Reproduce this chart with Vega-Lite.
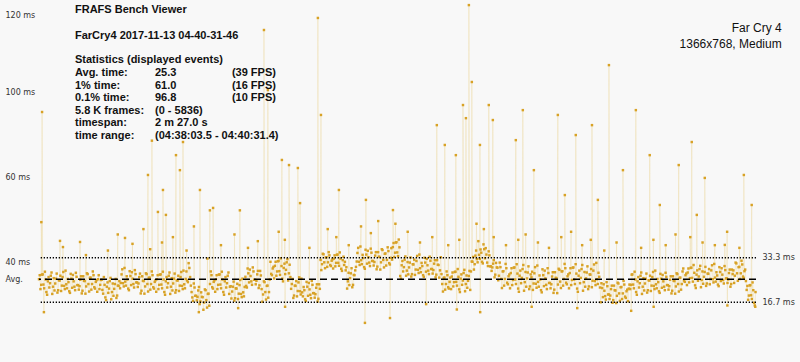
{
"$schema": "https://vega.github.io/schema/vega-lite/v6.json",
"width": 717, "height": 347,
"autosize": {"type": "none"},
"padding": {"left": 39, "top": 0, "right": 44, "bottom": 15},
"background": "#f8f8f8",
"config": {"view": {"stroke": null}, "font": "Liberation Sans"},
"datasets": {
"frames": [
{"f":0,"t":25.3},{"f":12,"t":21.6},{"f":24,"t":27.0},{"f":36,"t":23.3},{"f":48,"t":28.1},{"f":60,"t":20.5},{"f":72,"t":24.5},{"f":84,"t":22.2},{"f":96,"t":26.6},{"f":108,"t":19.8},
{"f":120,"t":25.7},{"f":132,"t":23.7},{"f":144,"t":27.4},{"f":156,"t":21.2},{"f":168,"t":24.8},{"f":180,"t":20.9},{"f":192,"t":26.1},{"f":204,"t":22.8},{"f":216,"t":28.5},{"f":228,"t":21.9},
{"f":240,"t":24.2},{"f":252,"t":20.2},{"f":264,"t":25.5},{"f":276,"t":26.9},{"f":288,"t":22.5},{"f":300,"t":27.7},{"f":312,"t":23.1},{"f":324,"t":21.4},{"f":336,"t":25.1},{"f":348,"t":20.0},
{"f":360,"t":26.4},{"f":372,"t":24.6},{"f":384,"t":22.6},{"f":396,"t":27.2},{"f":408,"t":20.7},{"f":420,"t":25.9},{"f":432,"t":23.5},{"f":444,"t":26.8},{"f":456,"t":21.8},{"f":468,"t":24.9},
{"f":480,"t":25.3},{"f":492,"t":21.6},{"f":504,"t":25.0},{"f":516,"t":21.3},{"f":528,"t":26.1},{"f":540,"t":18.5},{"f":552,"t":22.5},{"f":564,"t":20.2},{"f":576,"t":24.6},{"f":588,"t":17.8},
{"f":600,"t":23.7},{"f":612,"t":21.7},{"f":624,"t":25.4},{"f":636,"t":19.2},{"f":648,"t":22.8},{"f":660,"t":21.9},{"f":672,"t":27.1},{"f":684,"t":23.8},{"f":696,"t":29.5},{"f":708,"t":22.9},
{"f":720,"t":25.2},{"f":732,"t":21.2},{"f":744,"t":26.5},{"f":756,"t":27.9},{"f":768,"t":23.5},{"f":780,"t":28.7},{"f":792,"t":24.1},{"f":804,"t":22.4},{"f":816,"t":26.1},{"f":828,"t":20.0},
{"f":840,"t":26.4},{"f":852,"t":24.6},{"f":864,"t":22.6},{"f":876,"t":27.2},{"f":888,"t":20.7},{"f":900,"t":25.9},{"f":912,"t":23.5},{"f":924,"t":26.8},{"f":936,"t":21.8},{"f":948,"t":24.9},
{"f":960,"t":25.3},{"f":972,"t":21.6},{"f":984,"t":27.0},{"f":996,"t":23.3},{"f":1008,"t":28.1},{"f":1020,"t":20.5},{"f":1032,"t":24.5},{"f":1044,"t":22.2},{"f":1056,"t":26.6},{"f":1068,"t":19.8},
{"f":1080,"t":25.7},{"f":1092,"t":23.7},{"f":1104,"t":27.4},{"f":1116,"t":21.2},{"f":1128,"t":24.8},{"f":1140,"t":20.9},{"f":1152,"t":26.1},{"f":1164,"t":22.8},{"f":1176,"t":28.5},{"f":1188,"t":21.9},
{"f":1200,"t":28.2},{"f":1212,"t":24.2},{"f":1224,"t":29.5},{"f":1236,"t":22.9},{"f":1248,"t":18.5},{"f":1260,"t":23.7},{"f":1272,"t":19.1},{"f":1284,"t":17.4},{"f":1296,"t":21.1},{"f":1308,"t":16.0},
{"f":1320,"t":20.4},{"f":1332,"t":18.6},{"f":1344,"t":16.6},{"f":1356,"t":21.2},{"f":1368,"t":14.7},{"f":1380,"t":19.9},{"f":1392,"t":23.5},{"f":1404,"t":26.8},{"f":1416,"t":21.8},{"f":1428,"t":24.9},
{"f":1440,"t":25.3},{"f":1452,"t":21.6},{"f":1464,"t":27.0},{"f":1476,"t":23.3},{"f":1488,"t":28.1},{"f":1500,"t":20.5},{"f":1512,"t":24.5},{"f":1524,"t":22.2},{"f":1536,"t":26.6},{"f":1548,"t":19.8},
{"f":1560,"t":22.7},{"f":1572,"t":20.7},{"f":1584,"t":24.4},{"f":1596,"t":18.2},{"f":1608,"t":21.8},{"f":1620,"t":17.9},{"f":1632,"t":23.1},{"f":1644,"t":19.8},{"f":1656,"t":25.5},{"f":1668,"t":18.9},
{"f":1680,"t":26.2},{"f":1692,"t":22.2},{"f":1704,"t":27.5},{"f":1716,"t":28.9},{"f":1728,"t":24.5},{"f":1740,"t":29.7},{"f":1752,"t":25.1},{"f":1764,"t":23.4},{"f":1776,"t":27.1},{"f":1788,"t":22.0},
{"f":1800,"t":28.4},{"f":1812,"t":21.6},{"f":1824,"t":19.6},{"f":1836,"t":24.2},{"f":1848,"t":17.7},{"f":1860,"t":22.9},{"f":1872,"t":20.5},{"f":1884,"t":31.8},{"f":1896,"t":26.8},{"f":1908,"t":29.9},
{"f":1920,"t":30.3},{"f":1932,"t":26.6},{"f":1944,"t":32.0},{"f":1956,"t":28.3},{"f":1968,"t":33.1},{"f":1980,"t":25.5},{"f":1992,"t":29.5},{"f":2004,"t":27.2},{"f":2016,"t":31.6},{"f":2028,"t":24.8},
{"f":2040,"t":30.7},{"f":2052,"t":21.7},{"f":2064,"t":25.4},{"f":2076,"t":19.2},{"f":2088,"t":22.8},{"f":2100,"t":18.9},{"f":2112,"t":24.1},{"f":2124,"t":20.8},{"f":2136,"t":25.5},{"f":2148,"t":18.9},
{"f":2160,"t":21.2},{"f":2172,"t":17.2},{"f":2184,"t":22.5},{"f":2196,"t":23.9},{"f":2208,"t":19.5},{"f":2220,"t":24.7},{"f":2232,"t":20.1},{"f":2244,"t":18.4},{"f":2256,"t":22.1},{"f":2268,"t":17.0},
{"f":2280,"t":23.4},{"f":2292,"t":32.5},{"f":2304,"t":30.9},{"f":2316,"t":34.6},{"f":2328,"t":29.4},{"f":2340,"t":33.5},{"f":2352,"t":31.6},{"f":2364,"t":34.2},{"f":2376,"t":30.2},{"f":2388,"t":32.7},
{"f":2400,"t":33.0},{"f":2412,"t":30.1},{"f":2424,"t":34.4},{"f":2436,"t":31.4},{"f":2448,"t":35.3},{"f":2460,"t":29.2},{"f":2472,"t":32.4},{"f":2484,"t":30.6},{"f":2496,"t":28.6},{"f":2508,"t":21.8},
{"f":2520,"t":27.7},{"f":2532,"t":25.7},{"f":2544,"t":29.4},{"f":2556,"t":23.2},{"f":2568,"t":26.8},{"f":2580,"t":29.9},{"f":2592,"t":35.1},{"f":2604,"t":31.8},{"f":2616,"t":37.5},{"f":2628,"t":30.9},
{"f":2640,"t":33.2},{"f":2652,"t":29.2},{"f":2664,"t":34.5},{"f":2676,"t":35.9},{"f":2688,"t":31.5},{"f":2700,"t":36.7},{"f":2712,"t":32.1},{"f":2724,"t":30.4},{"f":2736,"t":34.1},{"f":2748,"t":29.0},
{"f":2760,"t":35.4},{"f":2772,"t":33.6},{"f":2784,"t":31.6},{"f":2796,"t":36.2},{"f":2808,"t":29.7},{"f":2820,"t":34.9},{"f":2832,"t":32.5},{"f":2844,"t":35.8},{"f":2856,"t":30.8},{"f":2868,"t":36.9},
{"f":2880,"t":37.3},{"f":2892,"t":33.6},{"f":2904,"t":39.0},{"f":2916,"t":35.3},{"f":2928,"t":40.1},{"f":2940,"t":26.5},{"f":2952,"t":30.5},{"f":2964,"t":28.2},{"f":2976,"t":32.6},{"f":2988,"t":26.6},
{"f":3000,"t":31.7},{"f":3012,"t":29.7},{"f":3024,"t":33.4},{"f":3036,"t":27.2},{"f":3048,"t":30.8},{"f":3060,"t":26.9},{"f":3072,"t":32.1},{"f":3084,"t":28.8},{"f":3096,"t":34.5},{"f":3108,"t":27.9},
{"f":3120,"t":30.2},{"f":3132,"t":26.2},{"f":3144,"t":31.5},{"f":3156,"t":32.9},{"f":3168,"t":28.5},{"f":3180,"t":33.7},{"f":3192,"t":29.1},{"f":3204,"t":27.4},{"f":3216,"t":31.1},{"f":3228,"t":26.0},
{"f":3240,"t":32.4},{"f":3252,"t":30.6},{"f":3264,"t":28.6},{"f":3276,"t":27.2},{"f":3288,"t":20.7},{"f":3300,"t":25.9},{"f":3312,"t":23.5},{"f":3324,"t":26.8},{"f":3336,"t":21.8},{"f":3348,"t":25.9},
{"f":3360,"t":26.3},{"f":3372,"t":22.6},{"f":3384,"t":28.0},{"f":3396,"t":24.3},{"f":3408,"t":29.1},{"f":3420,"t":21.5},{"f":3432,"t":25.5},{"f":3444,"t":23.2},{"f":3456,"t":27.6},{"f":3468,"t":20.8},
{"f":3480,"t":26.7},{"f":3492,"t":24.7},{"f":3504,"t":28.4},{"f":3516,"t":28.2},{"f":3528,"t":31.8},{"f":3540,"t":28.9},{"f":3552,"t":34.1},{"f":3564,"t":32.8},{"f":3576,"t":39.5},{"f":3588,"t":32.9},
{"f":3600,"t":35.2},{"f":3612,"t":31.2},{"f":3624,"t":36.5},{"f":3636,"t":36.9},{"f":3648,"t":31.5},{"f":3660,"t":35.7},{"f":3672,"t":30.1},{"f":3684,"t":28.4},{"f":3696,"t":31.1},{"f":3708,"t":26.0},
{"f":3720,"t":31.4},{"f":3732,"t":29.6},{"f":3744,"t":26.6},{"f":3756,"t":29.8},{"f":3768,"t":22.0},{"f":3780,"t":28.3},{"f":3792,"t":25.4},{"f":3804,"t":29.4},{"f":3816,"t":23.4},{"f":3828,"t":27.1},
{"f":3840,"t":27.6},{"f":3852,"t":23.1},{"f":3864,"t":29.6},{"f":3876,"t":25.2},{"f":3888,"t":30.9},{"f":3900,"t":21.8},{"f":3912,"t":26.6},{"f":3924,"t":23.8},{"f":3936,"t":29.1},{"f":3948,"t":21.0},
{"f":3960,"t":28.0},{"f":3972,"t":25.6},{"f":3984,"t":30.1},{"f":3996,"t":22.6},{"f":4008,"t":26.0},{"f":4020,"t":21.3},{"f":4032,"t":27.5},{"f":4044,"t":23.6},{"f":4056,"t":30.4},{"f":4068,"t":22.5},
{"f":4080,"t":25.2},{"f":4092,"t":20.4},{"f":4104,"t":26.8},{"f":4116,"t":28.5},{"f":4128,"t":23.2},{"f":4140,"t":29.4},{"f":4152,"t":23.9},{"f":4164,"t":21.9},{"f":4176,"t":26.3},{"f":4188,"t":20.2},
{"f":4200,"t":27.9},{"f":4212,"t":25.7},{"f":4224,"t":23.3},{"f":4236,"t":28.8},{"f":4248,"t":22.0},{"f":4260,"t":28.3},{"f":4272,"t":25.4},{"f":4284,"t":29.4},{"f":4296,"t":23.4},{"f":4308,"t":27.1},
{"f":4320,"t":27.6},{"f":4332,"t":23.1},{"f":4344,"t":29.6},{"f":4356,"t":25.2},{"f":4368,"t":30.9},{"f":4380,"t":21.8},{"f":4392,"t":26.6},{"f":4404,"t":23.8},{"f":4416,"t":29.1},{"f":4428,"t":21.0},
{"f":4440,"t":28.0},{"f":4452,"t":25.6},{"f":4464,"t":30.1},{"f":4476,"t":22.6},{"f":4488,"t":27.0},{"f":4500,"t":22.3},{"f":4512,"t":28.5},{"f":4524,"t":24.6},{"f":4536,"t":31.4},{"f":4548,"t":23.5},
{"f":4560,"t":26.2},{"f":4572,"t":16.7},{"f":4584,"t":22.0},{"f":4596,"t":23.4},{"f":4608,"t":19.0},{"f":4620,"t":24.2},{"f":4632,"t":19.6},{"f":4644,"t":17.9},{"f":4656,"t":21.6},{"f":4668,"t":16.5},
{"f":4680,"t":22.9},{"f":4692,"t":21.1},{"f":4704,"t":19.1},{"f":4716,"t":23.7},{"f":4728,"t":17.2},{"f":4740,"t":22.4},{"f":4752,"t":20.0},{"f":4764,"t":23.3},{"f":4776,"t":18.3},{"f":4788,"t":21.4},
{"f":4800,"t":21.8},{"f":4812,"t":21.6},{"f":4824,"t":27.0},{"f":4836,"t":23.3},{"f":4848,"t":28.1},{"f":4860,"t":20.5},{"f":4872,"t":24.5},{"f":4884,"t":22.2},{"f":4896,"t":26.6},{"f":4908,"t":19.8},
{"f":4920,"t":25.7},{"f":4932,"t":23.7},{"f":4944,"t":27.4},{"f":4956,"t":21.2},{"f":4968,"t":24.8},{"f":4980,"t":20.9},{"f":4992,"t":26.1},{"f":5004,"t":22.8},{"f":5016,"t":28.5},{"f":5028,"t":21.9},
{"f":5040,"t":24.2},{"f":5052,"t":20.2},{"f":5064,"t":25.5},{"f":5076,"t":26.9},{"f":5088,"t":22.5},{"f":5100,"t":27.7},{"f":5112,"t":23.1},{"f":5124,"t":21.4},{"f":5136,"t":25.1},{"f":5148,"t":20.0},
{"f":5160,"t":26.4},{"f":5172,"t":24.6},{"f":5184,"t":22.6},{"f":5196,"t":27.2},{"f":5208,"t":20.7},{"f":5220,"t":25.9},{"f":5232,"t":23.5},{"f":5244,"t":29.3},{"f":5256,"t":24.3},{"f":5268,"t":27.4},
{"f":5280,"t":27.8},{"f":5292,"t":24.1},{"f":5304,"t":29.5},{"f":5316,"t":25.8},{"f":5328,"t":30.6},{"f":5340,"t":23.0},{"f":5352,"t":27.0},{"f":5364,"t":24.7},{"f":5376,"t":29.1},{"f":5388,"t":22.3},
{"f":5400,"t":28.2},{"f":5412,"t":26.2},{"f":5424,"t":29.9},{"f":5436,"t":23.7},{"f":5448,"t":27.3},{"f":5460,"t":23.4},{"f":5472,"t":28.6},{"f":5484,"t":25.3},{"f":5496,"t":31.0},{"f":5508,"t":24.4},
{"f":5520,"t":26.7},{"f":5532,"t":22.7},{"f":5544,"t":28.0},{"f":5556,"t":29.4},{"f":5568,"t":25.0},{"f":5580,"t":30.2},{"f":5592,"t":25.6},{"f":5604,"t":23.9},{"f":5616,"t":27.6},{"f":5628,"t":22.5},
{"f":5640,"t":28.9},{"f":5652,"t":28.6},{"f":5664,"t":26.6},{"f":5676,"t":31.2},{"f":5688,"t":24.7},{"f":5700,"t":29.9},{"f":5712,"t":27.5},{"f":5724,"t":30.8},{"f":5736,"t":25.8},{"f":5748,"t":28.9},
{"f":5760,"t":21.3},{"f":5772,"t":17.6},{"f":5784,"t":23.0},{"f":5796,"t":19.3},{"f":5808,"t":24.1},{"f":5820,"t":16.5},{"f":5832,"t":20.5},
{"f":6,"t":26.8},{"f":18,"t":23.2},{"f":30,"t":27.1},{"f":42,"t":21.9},{"f":54,"t":25.2},{"f":66,"t":19.5},{"f":78,"t":26.1},{"f":90,"t":23.8},{"f":102,"t":27.8},{"f":114,"t":22.5},
{"f":126,"t":21.1},{"f":138,"t":25.5},{"f":150,"t":20.3},{"f":162,"t":24.9},{"f":174,"t":26.6},{"f":186,"t":22.9},{"f":198,"t":28.0},{"f":210,"t":21.6},{"f":222,"t":23.4},{"f":234,"t":25.4},
{"f":246,"t":20.8},{"f":258,"t":27.3},{"f":270,"t":22.1},{"f":282,"t":24.5},{"f":294,"t":21.2},{"f":306,"t":26.2},{"f":318,"t":23.1},{"f":330,"t":22.7},{"f":342,"t":26.4},{"f":354,"t":21.0},
{"f":366,"t":24.7},{"f":378,"t":19.9},{"f":390,"t":27.5},{"f":402,"t":23.5},{"f":414,"t":25.8},{"f":426,"t":21.4},{"f":438,"t":28.2},{"f":450,"t":22.3},{"f":462,"t":24.3},{"f":474,"t":20.6},
{"f":486,"t":26.8},{"f":498,"t":23.2},{"f":510,"t":25.1},{"f":522,"t":19.9},{"f":534,"t":23.2},{"f":546,"t":17.5},{"f":558,"t":24.1},{"f":570,"t":21.8},{"f":582,"t":25.8},{"f":594,"t":20.5},
{"f":606,"t":19.1},{"f":618,"t":23.5},{"f":630,"t":18.3},{"f":642,"t":22.9},{"f":654,"t":24.6},{"f":666,"t":23.9},{"f":678,"t":29.0},{"f":690,"t":22.6},{"f":702,"t":24.4},{"f":714,"t":26.4},
{"f":726,"t":21.8},{"f":738,"t":28.3},{"f":750,"t":23.1},{"f":762,"t":25.5},{"f":774,"t":22.2},{"f":786,"t":27.2},{"f":798,"t":24.1},{"f":810,"t":23.7},{"f":822,"t":27.4},{"f":834,"t":21.0},
{"f":846,"t":24.7},{"f":858,"t":19.9},{"f":870,"t":27.5},{"f":882,"t":23.5},{"f":894,"t":25.8},{"f":906,"t":21.4},{"f":918,"t":28.2},{"f":930,"t":22.3},{"f":942,"t":24.3},{"f":954,"t":20.6},
{"f":966,"t":26.8},{"f":978,"t":23.2},{"f":990,"t":27.1},{"f":1002,"t":21.9},{"f":1014,"t":25.2},{"f":1026,"t":19.5},{"f":1038,"t":26.1},{"f":1050,"t":23.8},{"f":1062,"t":27.8},{"f":1074,"t":22.5},
{"f":1086,"t":21.1},{"f":1098,"t":25.5},{"f":1110,"t":20.3},{"f":1122,"t":24.9},{"f":1134,"t":26.6},{"f":1146,"t":22.9},{"f":1158,"t":28.0},{"f":1170,"t":21.6},{"f":1182,"t":23.4},{"f":1194,"t":25.4},
{"f":1206,"t":24.8},{"f":1218,"t":31.3},{"f":1230,"t":26.1},{"f":1242,"t":20.5},{"f":1254,"t":17.2},{"f":1266,"t":22.2},{"f":1278,"t":19.1},{"f":1290,"t":18.7},{"f":1302,"t":22.4},{"f":1314,"t":17.0},
{"f":1326,"t":18.7},{"f":1338,"t":13.9},{"f":1350,"t":21.5},{"f":1362,"t":17.5},{"f":1374,"t":19.8},{"f":1386,"t":15.4},{"f":1398,"t":28.2},{"f":1410,"t":22.3},{"f":1422,"t":24.3},{"f":1434,"t":20.6},
{"f":1446,"t":26.8},{"f":1458,"t":23.2},{"f":1470,"t":27.1},{"f":1482,"t":21.9},{"f":1494,"t":25.2},{"f":1506,"t":19.5},{"f":1518,"t":26.1},{"f":1530,"t":23.8},{"f":1542,"t":27.8},{"f":1554,"t":22.5},
{"f":1566,"t":18.1},{"f":1578,"t":22.5},{"f":1590,"t":17.3},{"f":1602,"t":21.9},{"f":1614,"t":23.6},{"f":1626,"t":19.9},{"f":1638,"t":25.0},{"f":1650,"t":18.6},{"f":1662,"t":20.4},{"f":1674,"t":22.4},
{"f":1686,"t":22.8},{"f":1698,"t":29.3},{"f":1710,"t":24.1},{"f":1722,"t":26.5},{"f":1734,"t":23.2},{"f":1746,"t":28.2},{"f":1758,"t":25.1},{"f":1770,"t":24.7},{"f":1782,"t":28.4},{"f":1794,"t":23.0},
{"f":1806,"t":26.7},{"f":1818,"t":16.9},{"f":1830,"t":24.5},{"f":1842,"t":20.5},{"f":1854,"t":22.8},{"f":1866,"t":18.4},{"f":1878,"t":25.2},{"f":1890,"t":27.3},{"f":1902,"t":29.3},{"f":1914,"t":25.6},
{"f":1926,"t":31.8},{"f":1938,"t":28.2},{"f":1950,"t":32.1},{"f":1962,"t":26.9},{"f":1974,"t":30.2},{"f":1986,"t":24.5},{"f":1998,"t":31.1},{"f":2010,"t":28.8},{"f":2022,"t":32.8},{"f":2034,"t":27.5},
{"f":2046,"t":26.1},{"f":2058,"t":23.5},{"f":2070,"t":18.3},{"f":2082,"t":22.9},{"f":2094,"t":24.6},{"f":2106,"t":20.9},{"f":2118,"t":26.0},{"f":2130,"t":19.6},{"f":2142,"t":20.4},{"f":2154,"t":22.4},
{"f":2166,"t":17.8},{"f":2178,"t":24.3},{"f":2190,"t":19.1},{"f":2202,"t":21.5},{"f":2214,"t":18.2},{"f":2226,"t":23.2},{"f":2238,"t":20.1},{"f":2250,"t":19.7},{"f":2262,"t":23.4},{"f":2274,"t":18.0},
{"f":2286,"t":21.7},{"f":2298,"t":28.7},{"f":2310,"t":34.8},{"f":2322,"t":31.6},{"f":2334,"t":33.4},{"f":2346,"t":29.9},{"f":2358,"t":35.4},{"f":2370,"t":30.6},{"f":2382,"t":32.2},{"f":2394,"t":29.3},
{"f":2406,"t":34.2},{"f":2418,"t":31.4},{"f":2430,"t":34.5},{"f":2442,"t":30.3},{"f":2454,"t":33.0},{"f":2466,"t":28.4},{"f":2478,"t":33.7},{"f":2490,"t":31.8},{"f":2502,"t":29.8},{"f":2514,"t":24.5},
{"f":2526,"t":23.1},{"f":2538,"t":27.5},{"f":2550,"t":22.3},{"f":2562,"t":26.9},{"f":2574,"t":28.6},{"f":2586,"t":31.9},{"f":2598,"t":37.0},{"f":2610,"t":30.6},{"f":2622,"t":32.4},{"f":2634,"t":34.4},
{"f":2646,"t":29.8},{"f":2658,"t":36.3},{"f":2670,"t":31.1},{"f":2682,"t":33.5},{"f":2694,"t":30.2},{"f":2706,"t":35.2},{"f":2718,"t":32.1},{"f":2730,"t":31.7},{"f":2742,"t":35.4},{"f":2754,"t":30.0},
{"f":2766,"t":33.7},{"f":2778,"t":28.9},{"f":2790,"t":36.5},{"f":2802,"t":32.5},{"f":2814,"t":34.8},{"f":2826,"t":30.4},{"f":2838,"t":37.2},{"f":2850,"t":31.3},{"f":2862,"t":33.3},{"f":2874,"t":32.6},
{"f":2886,"t":38.8},{"f":2898,"t":35.2},{"f":2910,"t":39.1},{"f":2922,"t":33.9},{"f":2934,"t":37.2},{"f":2946,"t":25.5},{"f":2958,"t":32.1},{"f":2970,"t":29.8},{"f":2982,"t":33.8},{"f":2994,"t":28.5},
{"f":3006,"t":27.1},{"f":3018,"t":31.5},{"f":3030,"t":26.3},{"f":3042,"t":30.9},{"f":3054,"t":32.6},{"f":3066,"t":28.9},{"f":3078,"t":34.0},{"f":3090,"t":27.6},{"f":3102,"t":29.4},{"f":3114,"t":31.4},
{"f":3126,"t":26.8},{"f":3138,"t":33.3},{"f":3150,"t":28.1},{"f":3162,"t":30.5},{"f":3174,"t":27.2},{"f":3186,"t":32.2},{"f":3198,"t":29.1},{"f":3210,"t":28.7},{"f":3222,"t":32.4},{"f":3234,"t":27.0},
{"f":3246,"t":30.7},{"f":3258,"t":25.9},{"f":3270,"t":33.5},{"f":3282,"t":23.5},{"f":3294,"t":25.8},{"f":3306,"t":21.4},{"f":3318,"t":28.2},{"f":3330,"t":22.3},{"f":3342,"t":24.3},{"f":3354,"t":21.6},
{"f":3366,"t":27.8},{"f":3378,"t":24.2},{"f":3390,"t":28.1},{"f":3402,"t":22.9},{"f":3414,"t":26.2},{"f":3426,"t":20.5},{"f":3438,"t":27.1},{"f":3450,"t":24.8},{"f":3462,"t":28.8},{"f":3474,"t":23.5},
{"f":3486,"t":22.1},{"f":3498,"t":26.5},{"f":3510,"t":21.3},{"f":3522,"t":31.9},{"f":3534,"t":33.6},{"f":3546,"t":30.9},{"f":3558,"t":36.0},{"f":3570,"t":31.6},{"f":3582,"t":34.4},{"f":3594,"t":36.4},
{"f":3606,"t":31.8},{"f":3618,"t":38.3},{"f":3630,"t":33.1},{"f":3642,"t":34.5},{"f":3654,"t":30.2},{"f":3666,"t":34.2},{"f":3678,"t":30.1},{"f":3690,"t":29.7},{"f":3702,"t":32.4},{"f":3714,"t":27.0},
{"f":3726,"t":29.7},{"f":3738,"t":24.9},{"f":3750,"t":31.5},{"f":3762,"t":25.4},{"f":3774,"t":28.2},{"f":3786,"t":22.9},{"f":3798,"t":31.0},{"f":3810,"t":24.0},{"f":3822,"t":26.4},{"f":3834,"t":21.9},
{"f":3846,"t":29.4},{"f":3858,"t":25.0},{"f":3870,"t":29.7},{"f":3882,"t":23.5},{"f":3894,"t":27.4},{"f":3906,"t":20.6},{"f":3918,"t":28.5},{"f":3930,"t":25.8},{"f":3942,"t":30.6},{"f":3954,"t":24.2},
{"f":3966,"t":22.5},{"f":3978,"t":27.8},{"f":3990,"t":21.6},{"f":4002,"t":27.1},{"f":4014,"t":28.1},{"f":4026,"t":23.7},{"f":4038,"t":29.8},{"f":4050,"t":22.1},{"f":4062,"t":24.3},{"f":4074,"t":26.7},
{"f":4086,"t":21.2},{"f":4098,"t":29.0},{"f":4110,"t":22.7},{"f":4122,"t":25.6},{"f":4134,"t":21.6},{"f":4146,"t":27.6},{"f":4158,"t":23.9},{"f":4170,"t":23.4},{"f":4182,"t":27.9},{"f":4194,"t":21.4},
{"f":4206,"t":25.8},{"f":4218,"t":20.1},{"f":4230,"t":29.2},{"f":4242,"t":24.4},{"f":4254,"t":28.2},{"f":4266,"t":22.9},{"f":4278,"t":31.0},{"f":4290,"t":24.0},{"f":4302,"t":26.4},{"f":4314,"t":21.9},
{"f":4326,"t":29.4},{"f":4338,"t":25.0},{"f":4350,"t":29.7},{"f":4362,"t":23.5},{"f":4374,"t":27.4},{"f":4386,"t":20.6},{"f":4398,"t":28.5},{"f":4410,"t":25.8},{"f":4422,"t":30.6},{"f":4434,"t":24.2},
{"f":4446,"t":22.5},{"f":4458,"t":27.8},{"f":4470,"t":21.6},{"f":4482,"t":27.1},{"f":4494,"t":29.1},{"f":4506,"t":24.7},{"f":4518,"t":30.8},{"f":4530,"t":23.1},{"f":4542,"t":25.3},{"f":4554,"t":27.7},
{"f":4566,"t":22.2},{"f":4578,"t":23.8},{"f":4590,"t":18.6},{"f":4602,"t":21.0},{"f":4614,"t":17.7},{"f":4626,"t":22.7},{"f":4638,"t":19.6},{"f":4650,"t":19.2},{"f":4662,"t":22.9},{"f":4674,"t":17.5},
{"f":4686,"t":21.2},{"f":4698,"t":16.4},{"f":4710,"t":24.0},{"f":4722,"t":20.0},{"f":4734,"t":22.3},{"f":4746,"t":17.9},{"f":4758,"t":24.7},{"f":4770,"t":18.8},{"f":4782,"t":20.8},{"f":4794,"t":17.1},
{"f":4806,"t":23.3},{"f":4818,"t":23.2},{"f":4830,"t":27.1},{"f":4842,"t":21.9},{"f":4854,"t":25.2},{"f":4866,"t":19.5},{"f":4878,"t":26.1},{"f":4890,"t":23.8},{"f":4902,"t":27.8},{"f":4914,"t":22.5},
{"f":4926,"t":21.1},{"f":4938,"t":25.5},{"f":4950,"t":20.3},{"f":4962,"t":24.9},{"f":4974,"t":26.6},{"f":4986,"t":22.9},{"f":4998,"t":28.0},{"f":5010,"t":21.6},{"f":5022,"t":23.4},{"f":5034,"t":25.4},
{"f":5046,"t":20.8},{"f":5058,"t":27.3},{"f":5070,"t":22.1},{"f":5082,"t":24.5},{"f":5094,"t":21.2},{"f":5106,"t":26.2},{"f":5118,"t":23.1},{"f":5130,"t":22.7},{"f":5142,"t":26.4},{"f":5154,"t":21.0},
{"f":5166,"t":24.7},{"f":5178,"t":19.9},{"f":5190,"t":27.5},{"f":5202,"t":23.5},{"f":5214,"t":25.8},{"f":5226,"t":21.4},{"f":5238,"t":28.2},{"f":5250,"t":24.8},{"f":5262,"t":26.8},{"f":5274,"t":23.1},
{"f":5286,"t":29.3},{"f":5298,"t":25.7},{"f":5310,"t":29.6},{"f":5322,"t":24.4},{"f":5334,"t":27.7},{"f":5346,"t":22.0},{"f":5358,"t":28.6},{"f":5370,"t":26.3},{"f":5382,"t":30.3},{"f":5394,"t":25.0},
{"f":5406,"t":23.6},{"f":5418,"t":28.0},{"f":5430,"t":22.8},{"f":5442,"t":27.4},{"f":5454,"t":29.1},{"f":5466,"t":25.4},{"f":5478,"t":30.5},{"f":5490,"t":24.1},{"f":5502,"t":25.9},{"f":5514,"t":27.9},
{"f":5526,"t":23.3},{"f":5538,"t":29.8},{"f":5550,"t":24.6},{"f":5562,"t":27.0},{"f":5574,"t":23.7},{"f":5586,"t":28.7},{"f":5598,"t":25.6},{"f":5610,"t":25.2},{"f":5622,"t":28.9},{"f":5634,"t":23.5},
{"f":5646,"t":27.2},{"f":5658,"t":23.9},{"f":5670,"t":31.5},{"f":5682,"t":27.5},{"f":5694,"t":29.8},{"f":5706,"t":25.4},{"f":5718,"t":32.2},{"f":5730,"t":26.3},{"f":5742,"t":28.3},{"f":5754,"t":24.6},
{"f":5766,"t":22.8},{"f":5778,"t":19.2},{"f":5790,"t":23.1},{"f":5802,"t":17.9},{"f":5814,"t":21.2},{"f":5826,"t":15.5},
{"f":25,"t":87.7},{"f":19,"t":46.6},{"f":700,"t":40.7},{"f":887,"t":64.2},{"f":919,"t":77.0},{"f":968,"t":50.4},{"f":1009,"t":58.6},{"f":1033,"t":49.3},{"f":1115,"t":71.6},{"f":1147,"t":66.0},
{"f":1172,"t":76.5},{"f":1310,"t":58.6},{"f":1391,"t":51.0},{"f":1417,"t":51.9},{"f":1635,"t":51.0},{"f":1831,"t":118.3},{"f":1863,"t":95.9},{"f":1977,"t":69.8},{"f":2035,"t":67.9},{"f":2107,"t":66.8},
{"f":2125,"t":53.7},{"f":2270,"t":122.8},{"f":2295,"t":86.6},{"f":2441,"t":58.6},{"f":2661,"t":54.9},{"f":2881,"t":51.1},{"f":3238,"t":82.8},{"f":3303,"t":75.4},{"f":3393,"t":71.6},{"f":3451,"t":90.3},
{"f":3475,"t":85.4},{"f":3499,"t":127.6},{"f":3523,"t":98.9},{"f":3589,"t":75.4},{"f":3661,"t":90.3},{"f":3694,"t":84.7},{"f":3881,"t":77.2},{"f":3938,"t":88.4},{"f":4028,"t":66.0},{"f":4223,"t":86.6},
{"f":4280,"t":56.7},{"f":4369,"t":79.1},{"f":4501,"t":82.8},{"f":4549,"t":54.9},{"f":4639,"t":105.2},{"f":4753,"t":66.0},{"f":4858,"t":88.4},{"f":4971,"t":71.6},{"f":5053,"t":53.0},{"f":5207,"t":67.9},
{"f":5313,"t":76.5},{"f":5354,"t":49.3},{"f":5419,"t":63.1},{"f":5582,"t":38.1},{"f":5737,"t":64.2},{"f":5801,"t":53.0},
{"f":171,"t":39.6},{"f":195,"t":37.3},{"f":334,"t":39.2},{"f":382,"t":34.3},{"f":561,"t":36.0},{"f":641,"t":42.0},{"f":761,"t":38.5},{"f":850,"t":44.0},{"f":905,"t":36.5},{"f":1001,"t":39.0},
{"f":1090,"t":41.0},{"f":1201,"t":36.0},{"f":1261,"t":45.0},{"f":1371,"t":33.0},{"f":1481,"t":38.0},{"f":1591,"t":42.0},{"f":1701,"t":37.0},{"f":1781,"t":39.5},{"f":1951,"t":43.0},{"f":2001,"t":40.0},
{"f":2201,"t":37.0},{"f":2350,"t":44.0},{"f":2420,"t":41.0},{"f":2521,"t":38.0},{"f":2621,"t":45.0},{"f":2701,"t":42.5},{"f":2761,"t":47.0},{"f":2901,"t":46.0},{"f":3001,"t":43.0},{"f":3101,"t":39.0},
{"f":3201,"t":41.0},{"f":3331,"t":38.0},{"f":3421,"t":40.0},{"f":3561,"t":46.0},{"f":3621,"t":44.0},{"f":3701,"t":41.0},{"f":3801,"t":38.0},{"f":3901,"t":40.0},{"f":3961,"t":42.0},{"f":4061,"t":39.0},
{"f":4151,"t":37.0},{"f":4251,"t":41.0},{"f":4331,"t":43.0},{"f":4421,"t":38.0},{"f":4491,"t":40.0},{"f":4601,"t":36.0},{"f":4701,"t":39.0},{"f":4901,"t":37.0},{"f":5001,"t":40.0},{"f":5101,"t":38.0},
{"f":5181,"t":42.0},{"f":5301,"t":41.0},{"f":5401,"t":39.0},{"f":5501,"t":38.0},{"f":5601,"t":43.0},{"f":5701,"t":37.0},
{"f":40,"t":13.0},{"f":1301,"t":13.0},{"f":1621,"t":14.5},{"f":2003,"t":15.0},{"f":2653,"t":9.0},{"f":2857,"t":10.8},{"f":3151,"t":16.0},{"f":3401,"t":14.0},{"f":3591,"t":13.0},{"f":4010,"t":15.0},
{"f":4381,"t":14.5},{"f":4820,"t":13.5},{"f":5003,"t":15.0},{"f":5603,"t":15.5},{"f":5830,"t":15.0}
]
},
"layer": [
{
"data": {"name": "frames"},
"mark": {"type": "line", "stroke": "#eedba8", "strokeWidth": 0.5, "opacity": 0.9},
"encoding": {
"x": {"field": "f", "type": "quantitative", "scale": {"domain": [0, 5836], "nice": false, "zero": false},
"axis": {"values": [0, 960, 1920, 2880, 3840, 4800, 5760], "format": "d", "title": null, "grid": false, "ticks": false, "domain": true, "domainColor": "#000", "domainWidth": 1.5, "labelFont": "DejaVu Sans", "labelFontSize": 8, "labelColor": "#333", "labelPadding": 2}},
"y": {"field": "t", "type": "quantitative", "scale": {"domain": [0, 129.5], "nice": false, "zero": false},
"axis": {"orient": "left", "values": [25.3, 31.7, 63.1, 94.8, 123.9], "labelExpr": "datum.value == 25.3 ? 'Avg.' : datum.value == 31.7 ? '40 ms' : datum.value == 63.1 ? '60 ms' : datum.value == 94.8 ? '100 ms' : '120 ms'", "title": null, "grid": false, "ticks": false, "domain": false, "labelAlign": "left", "labelPadding": 34, "labelFont": "DejaVu Sans", "labelFontSize": 8, "labelColor": "#333"}},
"order": {"field": "f", "type": "quantitative"}
}
},
{
"data": {"name": "frames"},
"mark": {"type": "point", "shape": "square", "filled": true, "size": 6, "color": "#d8a226", "opacity": 1},
"encoding": {
"x": {"field": "f", "type": "quantitative", "axis": null},
"y": {"field": "t", "type": "quantitative", "axis": null}
}
},
{
"data": {"values": [{"v": 16.7}, {"v": 33.3}]},
"mark": {"type": "rule", "color": "#000", "strokeWidth": 1.3, "strokeDash": [1.3, 1.7]},
"encoding": {
"y": {"field": "v", "type": "quantitative",
"axis": {"orient": "right", "values": [16.7, 33.3], "labelExpr": "format(datum.value, '.1f') + ' ms'", "title": null, "grid": false, "ticks": false, "domain": false, "labelAlign": "left", "labelPadding": 6, "labelFont": "DejaVu Sans", "labelFontSize": 8, "labelColor": "#333"}}
}
},
{
"data": {"values": [{"v": 25.3}]},
"mark": {"type": "rule", "color": "#000", "strokeWidth": 1.5, "strokeDash": [7, 4]},
"encoding": {"y": {"field": "v", "type": "quantitative", "axis": null}}
},
{
"data": {"values": [{}]},
"mark": {"type": "text", "align": "left", "baseline": "top", "font": "Liberation Sans", "fontWeight": "bold", "fontSize": 11, "color": "#111"},
"encoding": {
"x": {"datum": 293, "type": "quantitative", "axis": null},
"y": {"datum": 127.9, "type": "quantitative", "axis": null},
"text": {"value": "FRAFS Bench Viewer"}
}
},
{
"data": {"values": [{}]},
"mark": {"type": "text", "align": "left", "baseline": "top", "font": "Liberation Sans", "fontWeight": "bold", "fontSize": 11, "color": "#111"},
"encoding": {
"x": {"datum": 293, "type": "quantitative", "axis": null},
"y": {"datum": 118.2, "type": "quantitative", "axis": null},
"text": {"value": "FarCry4 2017-11-13 04-40-31-46"}
}
},
{
"data": {"values": [{}]},
"mark": {"type": "text", "align": "left", "baseline": "top", "font": "Liberation Sans", "fontWeight": "bold", "fontSize": 11, "lineHeight": 12.6, "color": "#111"},
"encoding": {
"x": {"datum": 293, "type": "quantitative", "axis": null},
"y": {"datum": 109.2, "type": "quantitative", "axis": null},
"text": {"value": ["Statistics (displayed events)", "Avg. time:", "1% time:", "0.1% time:", "5.8 K frames:", "timespan:", "time range:"]}
}
},
{
"data": {"values": [{}]},
"mark": {"type": "text", "align": "left", "baseline": "top", "font": "Liberation Sans", "fontWeight": "bold", "fontSize": 11, "lineHeight": 12.6, "color": "#111"},
"encoding": {
"x": {"datum": 944, "type": "quantitative", "axis": null},
"y": {"datum": 104.5, "type": "quantitative", "axis": null},
"text": {"value": ["25.3", "61.0", "96.8", "(0 - 5836)", "2 m 27.0 s", "(04:38:03.5 - 04:40:31.4)"]}
}
},
{
"data": {"values": [{}]},
"mark": {"type": "text", "align": "left", "baseline": "top", "font": "Liberation Sans", "fontWeight": "bold", "fontSize": 11, "lineHeight": 12.6, "color": "#111"},
"encoding": {
"x": {"datum": 1570, "type": "quantitative", "axis": null},
"y": {"datum": 104.5, "type": "quantitative", "axis": null},
"text": {"value": ["(39 FPS)", "(16 FPS)", "(10 FPS)"]}
}
},
{
"data": {"values": [{}]},
"mark": {"type": "text", "align": "right", "baseline": "top", "font": "Liberation Sans", "fontSize": 12, "lineHeight": 16, "color": "#111"},
"encoding": {
"x": {"datum": 6045, "type": "quantitative", "axis": null},
"y": {"datum": 120.8, "type": "quantitative", "axis": null},
"text": {"value": ["Far Cry 4", "1366x768, Medium"]}
}
}
]
}
